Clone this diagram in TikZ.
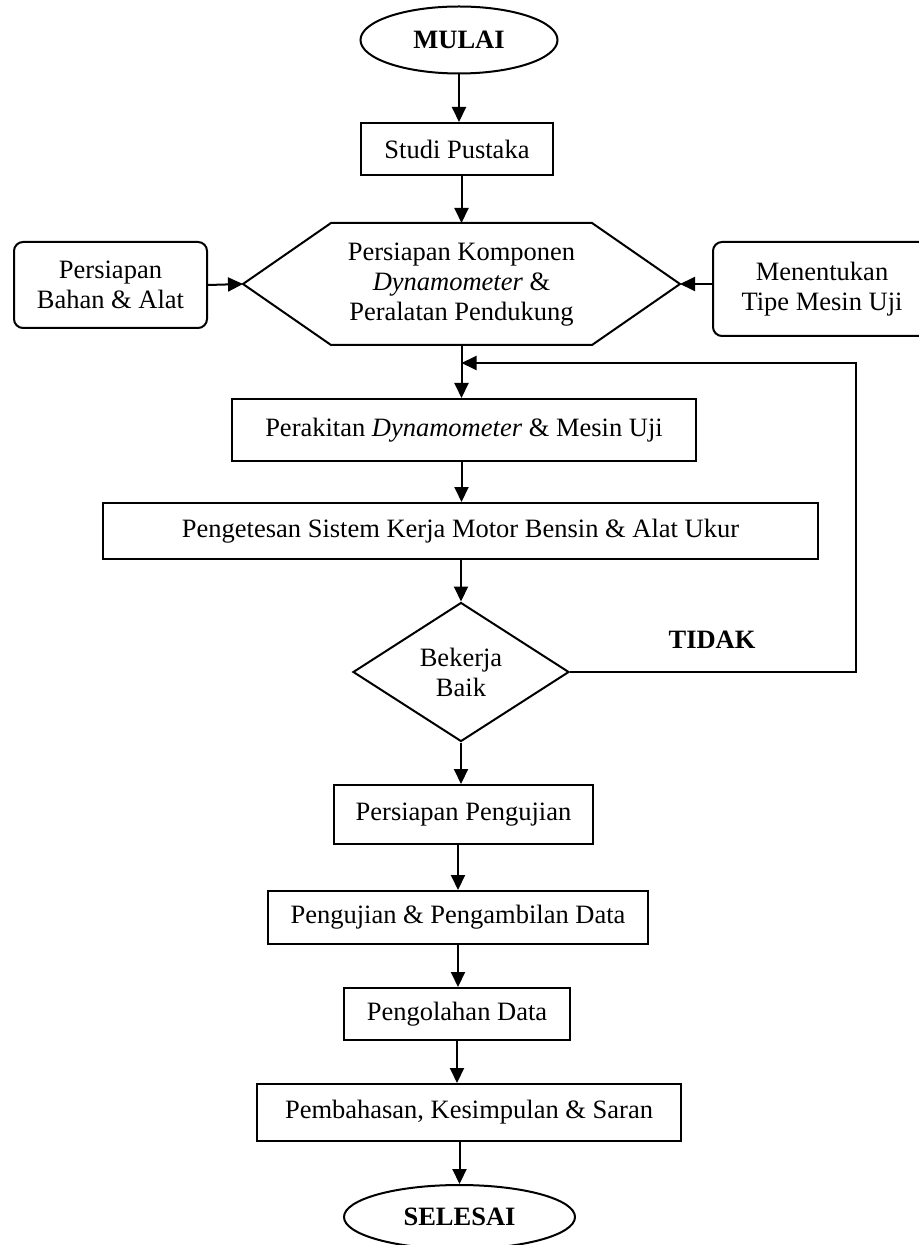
\documentclass[tikz,border=0pt]{standalone}
\usepackage{fontspec}
\setmainfont{Liberation Serif}
\usetikzlibrary{arrows.meta,shapes.geometric,positioning}

\tikzset{
  teks/.style={font=\fontsize{13.25pt}{15pt}\selectfont, align=center, inner sep=0pt},
  proses/.style={teks, draw, rectangle},
  samping/.style={proses, rounded corners=4.5pt},
  terminal/.style={teks, draw, ellipse},
  keputusan/.style={teks, draw, diamond, aspect=1.55},
}

\begin{document}
\begin{tikzpicture}[x=0.5pt,y=-0.5pt,>={Triangle[length=7.5pt,width=7pt]},line width=1pt]
    \useasboundingbox (0,0) rectangle (919,1245);
    \clip (0,0) rectangle (919,1245);
    % jalur utama
    \node[terminal, minimum width=98.5pt, minimum height=33.5pt] (mulai) at (459,40) {\textbf{MULAI}};
    \node[proses, minimum width=96pt, minimum height=26pt] (studi) at (457,149) {Studi Pustaka};
    \node[teks] (komponen) at (461.5,285) {Persiapan Komponen\\\textit{Dynamometer} \&\\Peralatan Pendukung};
    \coordinate (hexT) at (461.5,223);
    \coordinate (hexL) at (243,284);
    \coordinate (hexR) at (680,284);
    \coordinate (hexB) at (461.5,345);
    \draw (hexL) -- (331,223) -- (592,223) -- (hexR) -- (592,345) -- (331,345) -- cycle;
    \node[samping, minimum width=96.5pt, minimum height=43pt] (bahan) at (110.5,285) {Persiapan\\Bahan \& Alat};
    \node[samping, minimum width=109pt, minimum height=47pt] (tipe) at (822,289) {Menentukan\\Tipe Mesin Uji};
    \node[proses, minimum width=232pt, minimum height=31pt] (rakit) at (464,430) {Perakitan \textit{Dynamometer} \& Mesin Uji};
    \node[proses, minimum width=357.5pt, minimum height=28pt] (tes) at (460.5,531) {Pengetesan Sistem Kerja Motor Bensin \& Alat Ukur};
    \node[keputusan, minimum width=108pt, minimum height=69.5pt] (cek) at (461,672) {Bekerja\\Baik};
    \node[teks] (tidak) at (712,640) {\textbf{TIDAK}};
    \node[proses, minimum width=129.5pt, minimum height=29.5pt] (siap) at (463.5,814.5) {Persiapan Pengujian};
    \node[proses, minimum width=190pt, minimum height=26.5pt] (uji) at (458,917.5) {Pengujian \& Pengambilan Data};
    \node[proses, minimum width=113pt, minimum height=26pt] (olah) at (457,1014) {Pengolahan Data};
    \node[proses, minimum width=212pt, minimum height=28.5pt] (bahas) at (469,1112.5) {Pembahasan, Kesimpulan \& Saran};
    \node[terminal, minimum width=115.5pt, minimum height=32pt] (selesai) at (459.5,1217) {\textbf{SELESAI}};
    % panah
    \draw[->] (mulai.south) -- (mulai.south |- studi.north);
    \draw[->] (hexT |- studi.south) -- (hexT);
    \draw[->] (bahan.east) -- (hexL);
    \draw[->] (tipe.west |- hexR) -- (hexR);
    \draw[->] (hexB) -- (hexB |- rakit.north);
    \draw[->] (hexB |- rakit.south) -- (hexB |- tes.north);
    \draw[->] (tes.south -| cek.north) -- (cek.north);
    \draw[->] (cek.south) -- (cek.south |- siap.north);
    \draw[->] (uji.north |- siap.south) -- (uji.north);
    \draw[->] (uji.south) -- (uji.south |- olah.north);
    \draw[->] (olah.south) -- (olah.south |- bahas.north);
    \draw[->] (bahas.south -| selesai.north) -- (selesai.north);
    % umpan balik
    \coordinate (sudut) at (856,672);
    \coordinate (balik) at (461.5,363);
    \draw[->] (cek.east) -- (sudut) |- (balik);
\end{tikzpicture}
\end{document}
